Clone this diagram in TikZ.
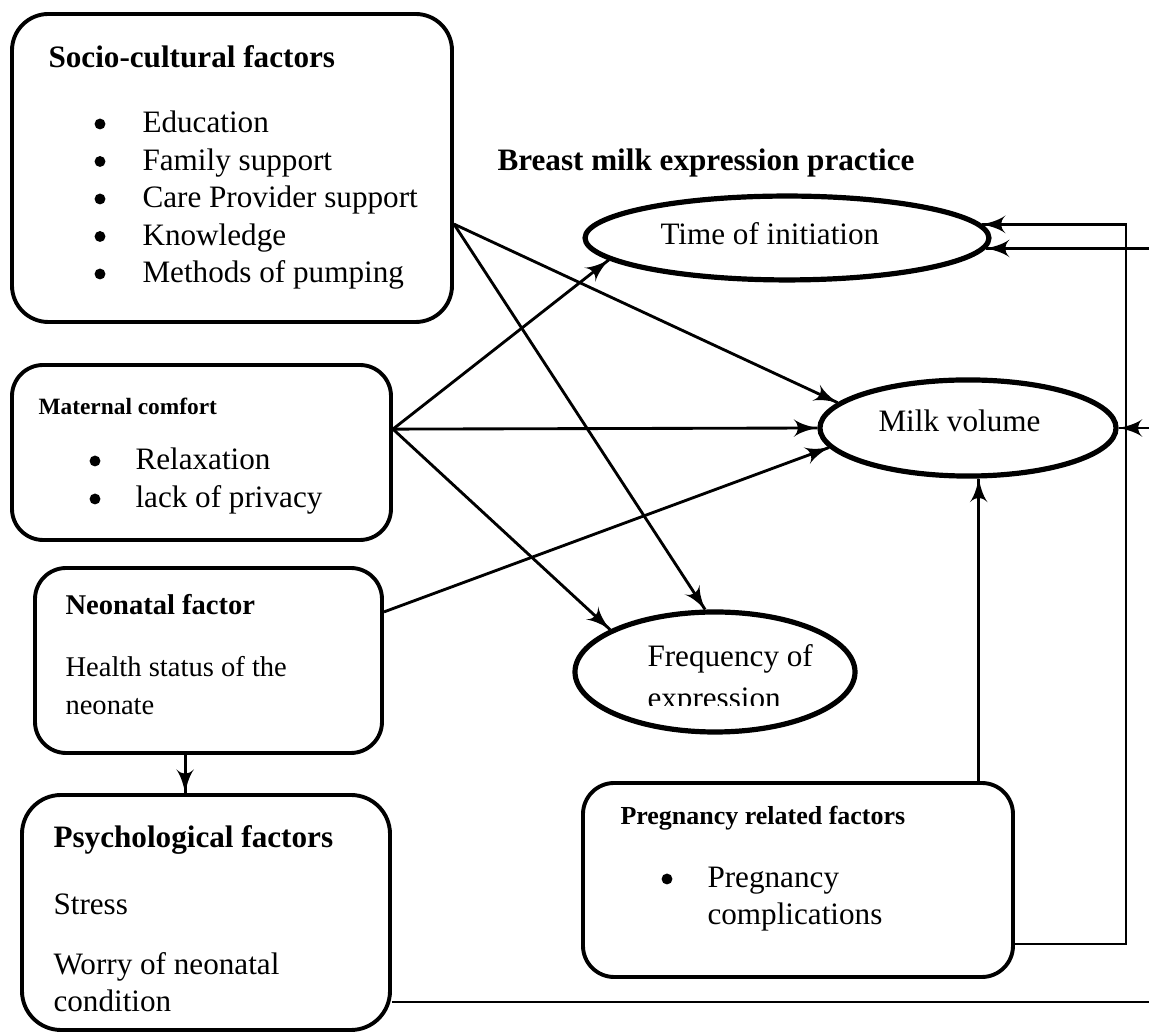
\documentclass[tikz,border=0pt]{standalone}
\usepackage{fontspec}
\setmainfont{Liberation Serif}
\usepackage{tikz}
\usetikzlibrary{arrows}
\usetikzlibrary{decorations.markings}
\usetikzlibrary{shapes.geometric}
\usetikzlibrary{fit}
\tikzset{->/.style = {decoration={markings,
                                  mark=at position 1 with {\arrow[scale=1.5]{latex'}}},
                      postaction={decorate}}}
\tikzset{box/.style = {draw, line width = 1.5pt, rounded corners = 12pt, inner sep = 0}}
\tikzset{oval/.style = {draw, ellipse, line width = 2pt, inner sep = 0}}
\tikzset{link/.style = {line width = 1.1pt}}
\tikzset{circ/.style = {fill, circle, inner sep = 0, minimum size = 4.2pt}}
\tikzset{txt/.style = {anchor = base west, inner sep = 0, font = \fontsize{12}{14}\selectfont}}
\tikzset{head/.style = {txt, font = \fontsize{12}{14}\selectfont\bfseries}}

\begin{document}
\begin{tikzpicture}[x = 0.385pt, y = -0.385pt]
    \useasboundingbox (0, 0) rectangle (1149, 1033);

    \node [box, rounded corners = 14pt, fit = {(12, 14) (452, 322)}] (socio) {};
    \node [head] (sociottl) at (48, 68) {Socio-cultural factors};
    \node [circ] (edub) at (100, 124) {};
    \node [txt] (edu) at (142, 133) {Education};
    \node [circ] (familyb) at (100, 161.5) {};
    \node [txt] (family) at (142, 170.5) {Family support};
    \node [circ] (carerb) at (100, 199) {};
    \node [txt] (carer) at (142, 208) {Care Provider support};
    \node [circ] (knowlb) at (100, 236.5) {};
    \node [txt] (knowl) at (142, 245.5) {Knowledge};
    \node [circ] (pumpingb) at (100, 274) {};
    \node [txt] (pumping) at (142, 283) {Methods of pumping};

    \node [box, fit = {(12, 365) (391, 540)}] (maternal) {};
    \node [head, font = \fontsize{9}{11}\selectfont\bfseries] (maternalttl) at (38, 415) {Maternal comfort};
    \node [circ] (relaxb) at (95, 461) {};
    \node [txt] (relax) at (135, 470) {Relaxation};
    \node [circ] (privacyb) at (95, 499) {};
    \node [txt] (privacy) at (135, 508) {lack of privacy};

    \node [box, fit = {(35, 568) (382, 753)}] (neo) {};
    \node [head, font = \fontsize{11}{13}\selectfont\bfseries] (neottl) at (65, 615) {Neonatal factor};
    \node [txt, font = \fontsize{11}{13}\selectfont] (health) at (65, 677) {Health status of the};
    \node [txt, font = \fontsize{11}{13}\selectfont] (neonate) at (65, 715) {neonate};

    \node [box, rounded corners = 15pt, fit = {(22, 795) (390, 1030)}] (psych) {};
    \node [head] (psychttl) at (53, 848) {Psychological factors};
    \node [txt] (stress) at (53, 915) {Stress};
    \node [txt] (worry) at (53, 975) {Worry of neonatal};
    \node [txt] (condition) at (53, 1012) {condition};

    \node [box, fit = {(583, 783) (1013, 977)}] (preg) {};
    \node [head, font = \fontsize{10}{12}\selectfont\bfseries] (pregttl) at (620, 825) {Pregnancy related factors};
    \node [circ] (pregnb) at (667, 879) {};
    \node [txt] (pregn) at (707, 888) {Pregnancy};
    \node [txt] (compl) at (707, 925) {complications};

    \node [head] (practice) at (497, 171) {Breast milk expression practice};

    \node [oval, minimum width = 155.5pt, minimum height = 32.3pt] (time) at (787, 238) {};
    \node [txt] (timetxt) at (660, 245) {Time of initiation};
    \node [oval, minimum width = 114pt, minimum height = 37pt] (milk) at (968, 428) {};
    \node [txt] (milktxt) at (878, 432) {Milk volume};
    \node [oval, minimum width = 107.8pt, minimum height = 46.2pt] (freq) at (715, 672) {};
    \node [txt] (freqtxt) at (647, 667) {Frequency of};
    \begin{scope}
        \clip (600, 680) rectangle (850, 706);
        \node [txt] (freqtxtb) at (647, 709) {expression};
    \end{scope}

    \coordinate (edge) at (1149, 0);
    \coordinate (rail) at (1126, 944);
    \coordinate (bot) at (1149, 1002);

    \draw [link, ->] ([yshift = -21.6pt]socio.east) -- (milk.169);
    \draw [link, ->] ([yshift = -21.6pt]socio.east) -- (freq.99);
    \draw [link, ->] ([yshift = 9pt]maternal.east) -- (time.187);
    \draw [link, ->] ([yshift = 9pt]maternal.east) -- (milk.west);
    \draw [link, ->] ([yshift = 9pt]maternal.east) -- (freq.158);
    \draw [link, ->] ([yshift = 18.7pt]neo.east) -- (milk.188);
    \draw [link, ->] ([xshift = -9pt]neo.south) -- ([xshift = -9pt]neo.south |- psych.north);
    \draw [link, ->] (preg.north -| milk.-78) -- (milk.-78);
    \draw [link, ->] (preg.east |- rail) -- (rail) |- (time.4);
    \draw [link, ->] (time.-3 -| edge) -- (time.-3);
    \draw [link, ->] (milk.east -| edge) -- (milk.east);
    \draw [link] (psych.east |- bot) -- (bot);
  \end{tikzpicture}
\end{document}
